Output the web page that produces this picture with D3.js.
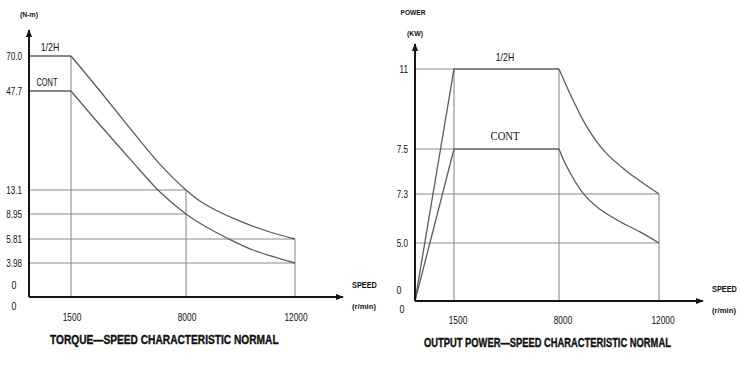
<!DOCTYPE html>
<html><head><meta charset="utf-8">
<script src="https://cdn.jsdelivr.net/npm/d3@7"></script>
<style>
html,body{margin:0;padding:0;background:#fff;}
svg{display:block;}
text{font-family:"Liberation Sans",Arial,sans-serif;fill:#111;}
</style></head>
<body>
<svg id="c" width="740" height="368"></svg>
<script>
// ---------- DATA ----------
const speedTicks = [1500, 8000, 12000];
const speedTickLabels = ["1500", "8000", "12000"];

const torqueTicks = [70.0, 47.7, 13.1, 8.95, 5.81, 3.98];
const torqueTickLabels = ["70.0", "47.7", "13.1", "8.95", "5.81", "3.98"];
// torque curves [speed r/min, torque N-m]
const torqueHalfFlat = [[0, 70.0], [1500, 70.0]];
const torqueHalfFall = [[1500, 70.0], [3140, 47.7], [4780, 35.1], [6470, 22.5], [8000, 13.1], [8620, 10.85], [9870, 8.2], [11080, 6.69], [12000, 5.81]];
const torqueContFlat = [[0, 47.7], [1500, 47.7]];
const torqueContFall = [[1500, 47.7], [3140, 35.8], [4840, 23.9], [6530, 12.75], [8000, 8.95], [8620, 7.57], [9500, 5.94], [10460, 4.97], [12000, 3.98]];

const powerTicks = [11, 7.5, 7.3, 5.0];
const powerTickLabels = ["11", "7.5", "7.3", "5.0"];
// power curves [speed r/min, power kW]
const powerHalfFlat = [[0, 0], [1500, 11], [8000, 11]];
const powerHalfFall = [[8000, 11], [8560, 9.64], [9120, 8.46], [9840, 7.487], [10640, 7.407], [11240, 7.358], [12000, 7.3]];
const powerContFlat = [[0, 0], [1500, 7.5], [8000, 7.5]];
const powerContFall = [[8000, 7.5], [8320, 7.42], [8960, 7.304], [9520, 6.69], [10320, 6.08], [11240, 5.52], [12000, 5.0]];

const torqueTitle = "TORQUE\u2014SPEED CHARACTERISTIC NORMAL";
const powerTitle = "OUTPUT POWER\u2014SPEED CHARACTERISTIC NORMAL";

// ---------- DRAW ----------
const svg = d3.select("#c");
const gridColor = "#8c8c8c", curveColor = "#5c5c5c", axisColor = "#151515";

svg.append("defs").append("marker").attr("id", "arr")
  .attr("viewBox", "0 0 10 10").attr("refX", 9).attr("refY", 5)
  .attr("markerWidth", 8).attr("markerHeight", 8).attr("markerUnits", "userSpaceOnUse")
  .attr("orient", "auto")
  .append("path").attr("d", "M0,1 L10,5 L0,9 Z").attr("fill", axisColor);

// text with horizontal squeeze; width -> scale to that width, else use sx
function ntext(g, x, y, str, o) {
  const t = g.append("g").attr("transform", `translate(${x},${y})`);
  const el = t.append("text").attr("dy", "0.35em")
    .attr("text-anchor", o.anchor || "start").attr("font-size", o.size || 11)
    .attr("font-weight", o.bold ? "bold" : null).text(str);
  if (o.family) el.style("font-family", o.family);
  if (o.stroke) el.attr("stroke", "#111").attr("stroke-width", o.stroke);
  let sx = o.sx || 1;
  if (o.width) sx = o.width / el.node().getComputedTextLength();
  el.attr("transform", `scale(${sx},1)`);
  return el;
}

function chart(cfg) {
  const g = svg.append("g");
  const x = d3.scaleLinear().domain([0, ...speedTicks]).range(cfg.xr);
  const y = d3.scaleLinear().domain(cfg.yd).range(cfg.yr);
  const x0 = x(0), y0 = y(0);

  cfg.hLines.forEach(([v, s]) => {
    g.append("line").attr("x1", x0).attr("x2", x(s)).attr("y1", y(v)).attr("y2", y(v))
      .attr("stroke", gridColor).attr("stroke-width", 1.1);
  });
  cfg.vLines.forEach(([s, v]) => {
    g.append("line").attr("x1", x(s)).attr("x2", x(s)).attr("y1", y0).attr("y2", y(v))
      .attr("stroke", gridColor).attr("stroke-width", 1.1);
  });

  const lin = d3.line().x(d => x(d[0])).y(d => y(d[1]));
  const smooth = d3.line().x(d => x(d[0])).y(d => y(d[1])).curve(d3.curveCatmullRom.alpha(0.5));
  cfg.flat.forEach(d => g.append("path").attr("d", lin(d)).attr("fill", "none")
    .attr("stroke", curveColor).attr("stroke-width", 1.3));
  cfg.fall.forEach(d => g.append("path").attr("d", smooth(d)).attr("fill", "none")
    .attr("stroke", curveColor).attr("stroke-width", 1.3));

  g.append("line").attr("x1", x0).attr("x2", x0).attr("y1", y0).attr("y2", cfg.yTop)
    .attr("stroke", axisColor).attr("stroke-width", 2).attr("marker-end", "url(#arr)");
  g.append("line").attr("x1", x0).attr("x2", cfg.xEnd).attr("y1", y0).attr("y2", y0)
    .attr("stroke", axisColor).attr("stroke-width", 2).attr("marker-end", "url(#arr)");

  cfg.yTicks.forEach((v, i) => ntext(g, cfg.yLabX, y(v), cfg.yLabels[i],
    {anchor: "end", size: 11, sx: 0.74}));
  cfg.zeros.forEach(([zx, zy]) => ntext(g, zx, zy, "0", {anchor: "middle", size: 11, sx: 0.8}));
  speedTicks.forEach((s, i) => ntext(g, x(s) + cfg.xLabShift, cfg.xLabY, speedTickLabels[i],
    {anchor: "middle", size: 11, sx: 0.76}));
  ntext(g, cfg.speedX, cfg.speedY, "SPEED", {size: 8.5, bold: true, width: 25});
  ntext(g, cfg.speedX, cfg.speedY + 21, "(r/min)", {size: 8, bold: true, width: 24});
  ntext(g, cfg.titleX, cfg.titleY, cfg.title, {size: 13.5, bold: true, width: cfg.titleW, stroke: 0.4});
  return {g, x, y};
}

// Left: torque
const L = chart({
  xr: [29, 71, 186, 295],
  yd: [0, 3.98, 5.81, 8.95, 13.1, 47.7, 70.0],
  yr: [297, 263, 239, 214, 190, 91, 56],
  hLines: [[13.1, 8000], [8.95, 8000], [5.81, 12000], [3.98, 12000]],
  vLines: [[1500, 70.0], [8000, 13.1], [12000, 5.81]],
  flat: [torqueHalfFlat, torqueContFlat],
  fall: [torqueHalfFall, torqueContFall],
  yTop: 30, xEnd: 343,
  yTicks: torqueTicks, yLabels: torqueTickLabels, yLabX: 22,
  zeros: [[14, 285], [14, 306]],
  xLabY: 317, xLabShift: 1,
  speedX: 352, speedY: 285,
  title: torqueTitle, titleX: 50, titleY: 339, titleW: 229
});
ntext(L.g, 29, 14, "(N-m)", {anchor: "middle", size: 8, bold: true, width: 18});
ntext(L.g, 50, 47, "1/2H", {anchor: "middle", size: 11, sx: 0.8});
ntext(L.g, 47, 82, "CONT", {anchor: "middle", size: 11, width: 21});

// Right: power
const R = chart({
  xr: [415, 454, 559, 659],
  yd: [0, 5.0, 7.3, 7.5, 11],
  yr: [301, 243, 194, 149, 69],
  hLines: [[11, 1500], [7.5, 1500], [7.3, 12000], [5.0, 12000]],
  vLines: [[1500, 11], [8000, 11], [12000, 7.3]],
  flat: [powerHalfFlat, powerContFlat],
  fall: [powerHalfFall, powerContFall],
  yTop: 44, xEnd: 703,
  yTicks: powerTicks, yLabels: powerTickLabels, yLabX: 408,
  zeros: [[399, 290], [402, 309]],
  xLabY: 320, xLabShift: 4,
  speedX: 712, speedY: 289,
  title: powerTitle, titleX: 424, titleY: 342, titleW: 247
});
ntext(R.g, 413, 12, "POWER", {anchor: "middle", size: 8, bold: true, width: 25});
ntext(R.g, 415, 33, "(KW)", {anchor: "middle", size: 8, bold: true, width: 16});
ntext(R.g, 505, 57, "1/2H", {anchor: "middle", size: 11, sx: 0.8});
ntext(R.g, 505, 136, "CONT", {anchor: "middle", size: 12.5, sx: 0.85, family: "'Liberation Serif',serif"});
</script>
</body></html>
